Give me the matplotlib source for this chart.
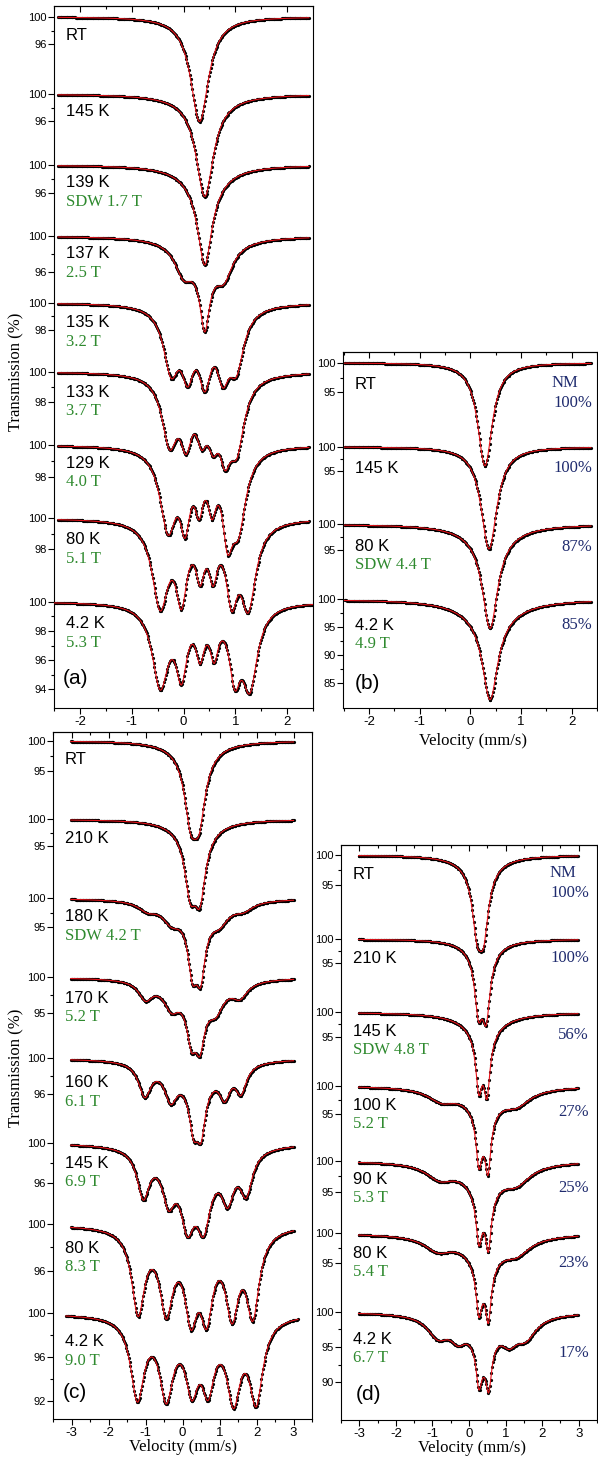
import numpy as np
import matplotlib.pyplot as plt

plt.rcParams['font.family'] = ['Liberation Sans', 'DejaVu Sans']

GREEN = '#2f8a2f'
NAVY = '#1f2b6e'
W, H = 598, 1461

# ---------------- panel (a) ----------------
a_names = ['RT', '145 K', '139 K', '137 K', '135 K', '133 K', '129 K', '80 K', '4.2 K']
a_fields = ['', '', 'SDW 1.7 T', '2.5 T', '3.2 T', '3.7 T', '4.0 T', '5.1 T', '5.3 T']
a_ticks = [[100, 96], [100, 96], [100, 96], [100, 96], [100, 98], [100, 98],
           [100, 98], [100, 98], [100, 98, 96, 94]]
# Lorentzian line parameters: position (mm/s), depth (%), FWHM (mm/s)
a_pos = [[0.31],
         [0.41, 0.41],
         [0.41, 0.41],
         [0.41, 0.00, 0.78, 0.41],
         [-0.24, 0.08, 0.41, 0.76, 1.02],
         [-0.27, 0.05, 0.35, 0.57, 0.80, 1.03],
         [-0.30, 0.03, 0.30, 0.55, 0.85, 1.06],
         [-0.45, -0.04, 0.32, 0.57, 0.93, 1.25],
         [-0.45, -0.04, 0.32, 0.59, 0.99, 1.28]]
a_depth = [[15.2],
           [14.4, 0.8],
           [11.5, 3.0],
           [7.0, 3.0, 3.2, 2.5],
           [4.4, 4.0, 4.6, 3.9, 4.0],
           [4.3, 3.6, 2.9, 2.9, 3.8, 4.3],
           [5.0, 4.0, 2.8, 2.8, 4.4, 4.6],
           [5.4, 4.5, 2.8, 2.8, 4.3, 5.3],
           [5.5, 4.3, 2.8, 2.8, 4.2, 5.4]]
a_fwhm = [[0.42],
          [0.40, 1.4],
          [0.32, 0.9],
          [0.22, 0.40, 0.40, 0.9],
          [0.36, 0.30, 0.30, 0.30, 0.36],
          [0.36, 0.28, 0.26, 0.26, 0.28, 0.36],
          [0.38, 0.24, 0.20, 0.20, 0.24, 0.36],
          [0.38, 0.26, 0.20, 0.20, 0.26, 0.36],
          [0.38, 0.26, 0.20, 0.20, 0.26, 0.36]]

# ---------------- panel (b) ----------------
b_names = ['RT', '145 K', '80 K', '4.2 K']
b_fields = ['', '', 'SDW 4.4 T', '4.9 T']
b_frac = ['100%', '100%', '87%', '85%']
b_ticks = [[100, 95], [100, 95], [100, 95], [100, 95, 90, 85]]
b_pos = [[0.29], [0.37], [0.39, 0.39], [0.39, 0.39]]
b_depth = [[17.4], [21.0], [18.0, 2.3], [15.0, 3.1]]
b_fwhm = [[0.35], [0.38], [0.36, 1.2], [0.36, 1.3]]

# ---------------- panel (c) ----------------
c_names = ['RT', '210 K', '180 K', '170 K', '160 K', '145 K', '80 K', '4.2 K']
c_fields = ['', '', 'SDW 4.2 T', '5.2 T', '6.1 T', '6.9 T', '8.3 T', '9.0 T']
c_ticks = [[100, 95], [100, 95], [100, 95], [100, 95], [100, 96], [100, 96],
           [100, 96], [100, 96, 92]]
c_pos = [[0.22, 0.45, 0.33],
         [0.21, 0.47, 0.34],
         [0.27, 0.49, -0.95, 1.65, -0.30, 1.00, 0.38],
         [0.24, 0.47, -1.00, -0.30, 0.90, 1.55, 0.38],
         [0.30, 0.50, -1.02, -0.32, 1.14, 1.58, 0.38],
         [0.13, 0.57, -1.06, -0.38, 1.22, 1.72, 0.38],
         [-1.20, -0.44, 0.23, 0.65, 1.34, 1.90, 0.35],
         [-1.22, -0.44, 0.25, 0.69, 1.38, 1.99, 0.38]]
c_depth = [[9.6, 9.6, 2.0],
           [10.0, 11.0, 2.5],
           [8.8, 9.4, 1.4, 1.3, 2.8, 2.8, 2.0],
           [5.5, 6.0, 2.4, 3.0, 3.0, 2.0, 2.2],
           [4.5, 5.0, 3.6, 3.3, 3.0, 3.0, 2.6],
           [5.0, 5.0, 4.5, 4.0, 4.0, 4.0, 2.8],
           [7.0, 6.3, 6.0, 6.0, 6.5, 7.0, 1.0],
           [7.2, 6.6, 5.2, 5.2, 6.8, 7.3, 0.8]]
c_fwhm = [[0.40, 0.40, 1.2],
          [0.36, 0.36, 1.2],
          [0.30, 0.30, 0.6, 0.6, 0.6, 0.6, 1.3],
          [0.30, 0.30, 0.45, 0.5, 0.5, 0.5, 1.3],
          [0.28, 0.28, 0.40, 0.40, 0.35, 0.35, 1.3],
          [0.42, 0.42, 0.40, 0.40, 0.40, 0.40, 1.4],
          [0.42, 0.42, 0.40, 0.40, 0.42, 0.42, 1.8],
          [0.44, 0.44, 0.40, 0.40, 0.44, 0.44, 1.8]]

# ---------------- panel (d) ----------------
d_names = ['RT', '210 K', '145 K', '100 K', '90 K', '80 K', '4.2 K']
d_fields = ['', '', 'SDW 4.8 T', '5.2 T', '5.3 T', '5.4 T', '6.7 T']
d_frac = ['100%', '100%', '56%', '27%', '25%', '23%', '17%']
d_ticks = [[100, 95]] * 6 + [[100, 95, 90]]
d_pos = [[0.22, 0.40, 0.31],
         [0.26, 0.47, 0.36],
         [0.27, 0.49, 0.38, 0.38],
         [0.27, 0.52, 0.40, -0.75, 1.30, 0.40],
         [0.27, 0.53, 0.40, -0.80, 1.30, 0.40],
         [0.27, 0.53, 0.40, -0.85, 1.30, 0.40],
         [0.27, 0.54, 0.40, -0.85, -0.30, 1.10, 1.55, 0.40]]
d_depth = [[9.0, 9.5, 2.0],
           [11.0, 12.0, 3.0],
           [10.0, 11.0, 4.0, 1.5],
           [7.5, 8.5, 4.5, 2.0, 2.4, 1.8],
           [6.5, 7.5, 4.5, 2.2, 2.6, 1.8],
           [6.8, 7.8, 4.5, 2.2, 2.4, 1.8],
           [5.0, 5.5, 3.5, 2.8, 2.2, 2.4, 2.8, 1.6]]
d_fwhm = [[0.32, 0.32, 1.2],
          [0.25, 0.25, 1.0],
          [0.20, 0.20, 0.8, 1.8],
          [0.18, 0.18, 0.6, 0.9, 0.9, 1.8],
          [0.18, 0.18, 0.7, 0.9, 0.9, 1.8],
          [0.18, 0.18, 0.7, 0.9, 0.9, 1.8],
          [0.18, 0.18, 0.6, 0.7, 0.5, 0.5, 0.7, 1.8]]

# ---------------- layout (pixels) ----------------
a_base = [16.7, 94, 165, 236, 302.7, 371.7, 445, 518.3, 601.7]
a_scale = [6.9, 6.75, 6.9, 8.9, 13.7, 15.0, 15.8, 15.5, 14.6]
a_name_y = [35, 111.7, 182.7, 254, 322.7, 392.3, 463.3, 540, 624]
b_base = [362.7, 446.7, 524.3, 599.3]
b_scale = [5.93, 4.87, 5.13, 5.55]
b_name_y = [384.3, 468.3, 546.7, 625]
c_base = [740.7, 819.3, 898.3, 977.3, 1058.3, 1142.7, 1224.3, 1313.3]
c_scale = [6.0, 5.33, 5.8, 7.2, 8.9, 10.2, 11.6, 10.96]
c_name_y = [759.3, 838.3, 916.7, 998.3, 1082.7, 1163.3, 1248.3, 1341.7]
d_base = [855, 939, 1012.3, 1085.7, 1160.7, 1233.3, 1311.7]
d_scale = [6.0, 4.87, 4.87, 5.67, 6.2, 6.0, 7.07]
d_name_y = [874.3, 958.3, 1031.7, 1105, 1180, 1253.3, 1340]
d_frac_y = [893.3, 958.3, 1035, 1111.7, 1188.3, 1262.7, 1353.3]


def transmission(v, pos, depth, fwhm):
    t = np.full_like(v, 100.0)
    for p, d, w in zip(pos, depth, fwhm):
        g = w / 2
        t -= d * g ** 2 / ((v - p) ** 2 + g ** 2)
    return t


def make_axes(fig, l, r, t, b, xlim, xticks):
    ax = fig.add_axes([l / W, 1 - b / H, (r - l) / W, (b - t) / H])
    ax.set_xlim(*xlim)
    ax.set_ylim(b, t)
    for s in ax.spines.values():
        s.set_linewidth(0.8)
    ax.set_xticks(xticks)
    ax.set_xticklabels([str(x) for x in xticks])
    ax.set_xticks(np.arange(xticks[0] - 0.5, xticks[-1] + 1, 1.0), minor=True)
    ax.tick_params(axis='x', which='major', direction='out', length=4, width=0.8,
                   labelsize=9.5, pad=1.5)
    ax.tick_params(axis='x', which='minor', direction='out', length=2.5, width=0.8)
    ax.tick_params(axis='y', which='major', direction='out', length=4, width=0.8,
                   labelsize=8, pad=1)
    ax.tick_params(axis='y', which='minor', direction='out', length=2.5, width=0.8)
    top = ax.secondary_xaxis('top')
    top.set_xticks(xticks)
    top.set_xticks(np.arange(xticks[0] - 0.5, xticks[-1] + 1, 1.0), minor=True)
    top.tick_params(which='both', direction='in', labeltop=False, width=0.8)
    top.tick_params(which='major', length=4)
    top.tick_params(which='minor', length=2.5)
    top.spines['top'].set_linewidth(0.8)
    return ax


def draw_spectra(ax, pos, depth, fwhm, base, scale, ticks, vmin, vmax, npts=300):
    major, labels, minor = [], [], []
    for i in range(len(pos)):
        v = np.linspace(vmin[i], vmax[i], npts)
        t = transmission(v, pos[i], depth[i], fwhm[i])
        y = base[i] + (100 - t) * scale[i]
        ax.plot(v, y, 'o', color='black', ms=2.3, mew=0, zorder=2)
        ax.plot(v, y, '-', color='#e8141b', lw=0.8, zorder=3)
        tk = ticks[i]
        for k, val in enumerate(tk):
            major.append(base[i] + (100 - val) * scale[i])
            labels.append(str(val))
            if k + 1 < len(tk):
                mid = (val + tk[k + 1]) / 2
                minor.append(base[i] + (100 - mid) * scale[i])
    ax.set_yticks(major)
    ax.set_yticklabels(labels)
    ax.set_yticks(minor, minor=True)


def label(x, y, s, color='black', size=12, family=None, ha='left', **kw):
    fam = family if family else ['Liberation Sans', 'DejaVu Sans']
    fig.text(x / W, 1 - y / H, s, color=color, fontsize=size, family=fam,
             ha=ha, va='center', **kw)


SERIF = ['Liberation Serif', 'DejaVu Serif']

fig = plt.figure(figsize=(W / 100, H / 100), dpi=100)

# panel (a)
ax_a = make_axes(fig, 54, 313, 6, 708, (-2.49, 2.49), [-2, -1, 0, 1, 2])
n = len(a_names)
draw_spectra(ax_a, a_pos, a_depth, a_fwhm, a_base, a_scale, a_ticks,
             [-2.42] * (n - 1) + [-2.5], [2.42] * (n - 1) + [2.5])
for nm, fld, y in zip(a_names, a_fields, a_name_y):
    label(66, y, nm)
    if fld:
        label(66, y + 19, fld, color=GREEN, family=SERIF)
label(63, 678, '(a)', size=15)

# panel (b)
ax_b = make_axes(fig, 343, 597, 352, 708, (-2.51, 2.38), [-2, -1, 0, 1, 2])
n = len(b_names)
draw_spectra(ax_b, b_pos, b_depth, b_fwhm, b_base, b_scale, b_ticks,
             [-2.48] * n, [2.38] * n)
for i, (nm, fld, y) in enumerate(zip(b_names, b_fields, b_name_y)):
    label(355, y, nm)
    if fld:
        label(355, y + 18.5, fld, color=GREEN, family=SERIF)
    fy = 402.7 if i == 0 else y
    label(592, fy, b_frac[i], color=NAVY, family=SERIF, ha='right')
label(552, 383.3, 'NM', color=NAVY, family=SERIF)
label(355, 683, '(b)', size=15)
label(473, 741, 'Velocity (mm/s)', family=SERIF, ha='center')

# panel (c)
ax_c = make_axes(fig, 53, 312, 732, 1419, (-3.15, 3.12), [-3, -2, -1, 0, 1, 2, 3])
n = len(c_names)
draw_spectra(ax_c, c_pos, c_depth, c_fwhm, c_base, c_scale, c_ticks,
             [-3.02] * (n - 1) + [-3.15], [3.0] * (n - 1) + [3.12])
for nm, fld, y in zip(c_names, c_fields, c_name_y):
    label(65, y, nm)
    if fld:
        label(65, y + 19, fld, color=GREEN, family=SERIF)
label(63, 1392, '(c)', size=15)
label(183, 1447, 'Velocity (mm/s)', family=SERIF, ha='center')

# panel (d)
ax_d = make_axes(fig, 341, 597, 845, 1420, (-3.16, 3.03), [-3, -2, -1, 0, 1, 2, 3])
n = len(d_names)
draw_spectra(ax_d, d_pos, d_depth, d_fwhm, d_base, d_scale, d_ticks,
             [-3.02] * n, [2.98] * n)
for nm, fld, y, fr, fy in zip(d_names, d_fields, d_name_y, d_frac, d_frac_y):
    label(353, y, nm)
    if fld:
        label(353, y + 18.5, fld, color=GREEN, family=SERIF)
    label(589, fy, fr, color=NAVY, family=SERIF, ha='right')
label(550, 873.3, 'NM', color=NAVY, family=SERIF)
label(356, 1395, '(d)', size=15)
label(472, 1448, 'Velocity (mm/s)', family=SERIF, ha='center')

# y axis titles
label(16, 372, 'Transmission (%)', family=SERIF, ha='center', rotation=90)
label(16, 1068, 'Transmission (%)', family=SERIF, ha='center', rotation=90)

fig.savefig('out.png', dpi=100)
